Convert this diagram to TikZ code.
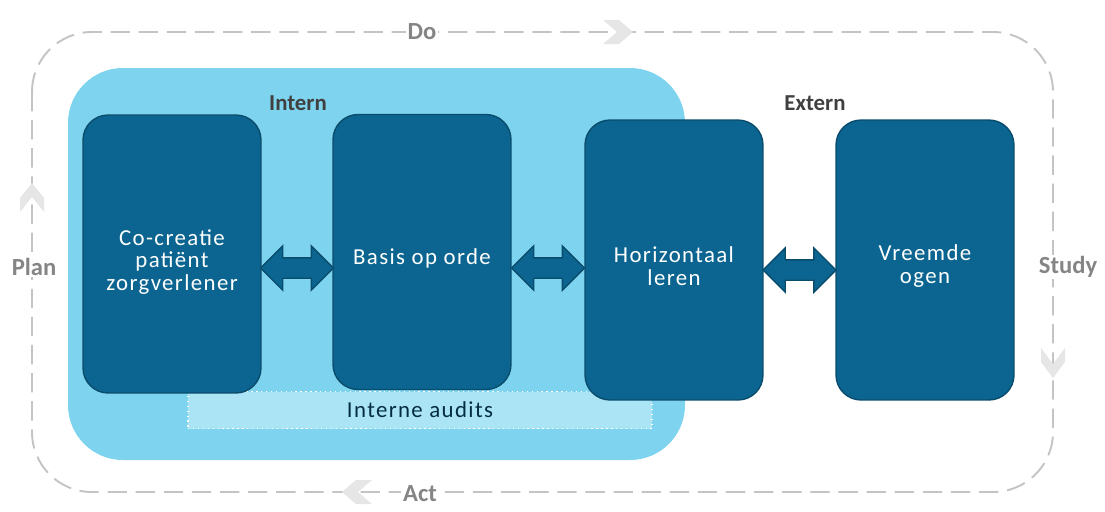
\documentclass[tikz,border=0pt]{standalone}
\usepackage{fontspec}
\setmainfont{Carlito}
\usetikzlibrary{shapes.arrows,calc}

\definecolor{boxblue}{HTML}{0B6590}
\definecolor{boxedge}{HTML}{0A4C6C}
\definecolor{internblue}{HTML}{7ED4EE}
\definecolor{auditblue}{HTML}{AAE4F5}
\definecolor{cyclegray}{HTML}{C4C4C4}
\definecolor{chevgray}{HTML}{E6E6E6}
\definecolor{phasegray}{HTML}{858585}

\tikzset{
  stepbox/.style={draw=boxedge, line width=0.8pt, fill=boxblue, rounded corners=0.5cm,
    minimum width=3.56cm, inner sep=0pt},
  steptext/.style={text=white, align=center, yshift=-0.16cm,
    font=\fontsize{13}{13}\selectfont\addfontfeatures{LetterSpace=6}},
  biarrow/.style={double arrow, draw=boxedge, line width=0.8pt, fill=boxblue,
    minimum height=1.46cm, inner sep=0pt, text height=0.19cm, text depth=0.19cm,
    double arrow head extend=0.24cm},
  phase/.style={text=phasegray, font=\fontsize{14}{16}\selectfont\bfseries, inner sep=1pt},
  grouplabel/.style={text=black!75, font=\fontsize{13}{16}\selectfont\bfseries},
  chevron/.style={fill=chevgray, draw=none}
}

\begin{document}
\begin{tikzpicture}[x=0.02cm,y=-0.02cm]
    \useasboundingbox (0,0) rectangle (1105,511);

    % PDCA cycle
    \draw[cyclegray, line width=1.1pt, dash pattern=on 11pt off 5pt, rounded corners=1.2cm]
      (32,32) rectangle (1053,492);

    % Chevrons on the cycle
    \fill[chevron] (603,20) -- (619,20) -- (633,32) -- (619,44) -- (603,44) -- (617,32) -- cycle;
    \fill[chevron] (1041,348) -- (1041,362) -- (1053,378) -- (1065,362) -- (1065,348) -- (1053,364) -- cycle;
    \fill[chevron] (372,480) -- (356,480) -- (342,492) -- (356,504) -- (372,504) -- (358,492) -- cycle;
    \fill[chevron] (20,212) -- (20,198) -- (32,183) -- (44,198) -- (44,212) -- (32,197) -- cycle;

    % Phase labels
    \node[phase, fill=white] (do) at (422,32) {Do};
    \node[phase, fill=white] (act) at (420,494) {Act};
    \node[phase, fill=white] (plan) at (34,267) {Plan};
    \node[phase, fill=white] (study) at (1068,267) {Study};

    % Internal region
    \fill[internblue, rounded corners=1.1cm] (68,68) rectangle (685,460);
    \node[grouplabel] (intern) at (298,103) {Intern};
    \node[grouplabel] (extern) at (815,103) {Extern};

    % Internal audits band
    \node[fill=auditblue, draw=white, dotted, line width=0.8pt, minimum width=9.28cm,
      minimum height=0.74cm, text=black!55!boxblue,
      font=\fontsize{13}{16}\selectfont\addfontfeatures{LetterSpace=6}]
      (audits) at (420,410) {Interne audits};

    % Boxes
    \node[stepbox, minimum height=5.56cm, label={[steptext]center:Co-creatie\\patiënt\\zorgverlener}]
      (cocreatie) at (172,254) {};
    \node[stepbox, minimum height=5.5cm, label={[steptext, yshift=0.04cm]center:Basis op orde}]
      (basis) at (422,252) {};
    \node[stepbox, minimum height=5.6cm, label={[steptext, yshift=0.04cm]center:Horizontaal\\leren}]
      (horizontaal) at (674,260) {};
    \node[stepbox, minimum height=5.6cm, label={[steptext, yshift=0.04cm]center:Vreemde\\ogen}]
      (vreemde) at (925,260) {};

    % Arrows between boxes
    \node[biarrow] (a1) at ($(cocreatie.east)!.5!(basis.west)+(0,15)$) {};
    \node[biarrow] (a2) at ($(basis.east)!.5!(horizontaal.west)+(0,12)$) {};
    \node[biarrow] (a3) at ($(horizontaal.east)!.5!(vreemde.west)+(0,10)$) {};

\end{tikzpicture}
\end{document}
